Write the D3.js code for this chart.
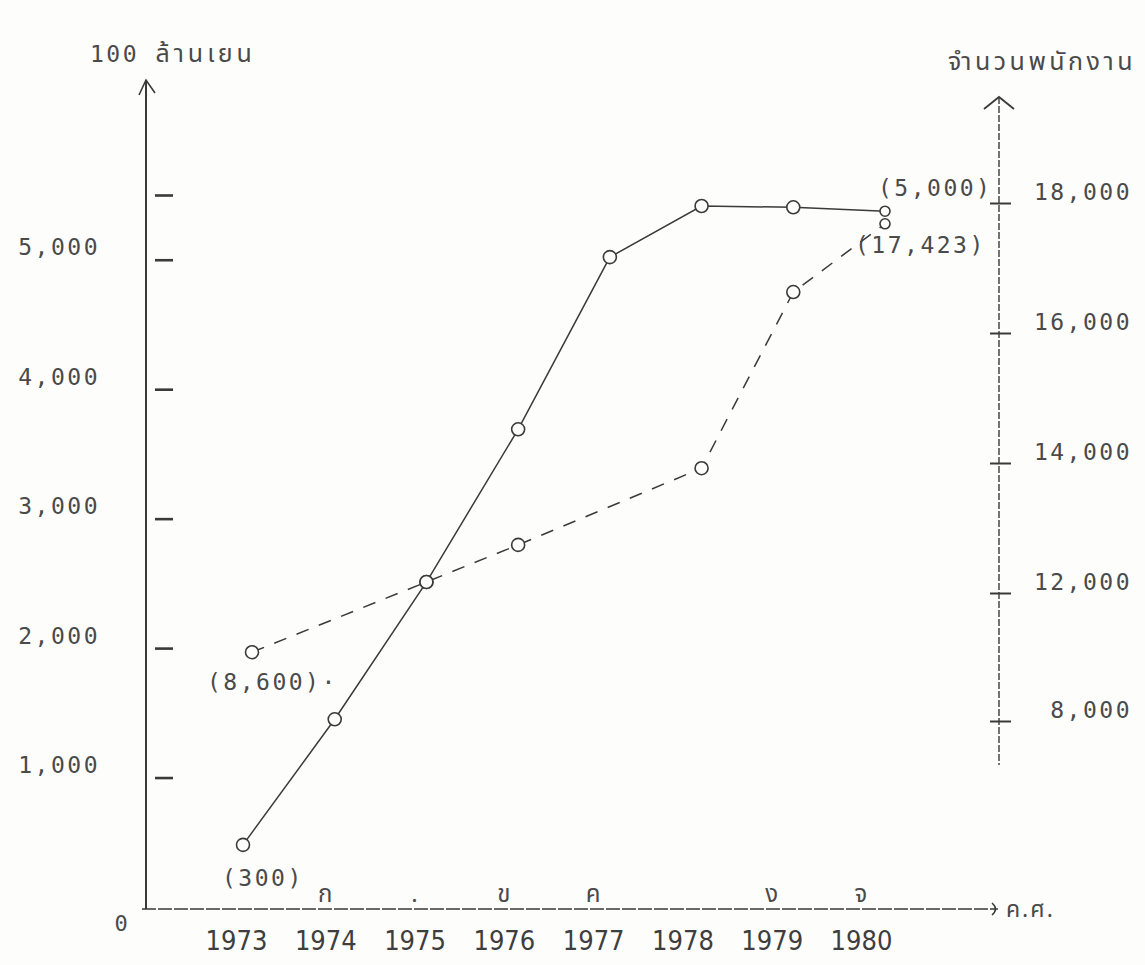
<!DOCTYPE html>
<html><head><meta charset="utf-8">
<script src="https://cdn.jsdelivr.net/npm/d3@7/dist/d3.min.js"></script>
<style>
html,body{margin:0;padding:0;background:#fdfdfc;}
svg{display:block;}
.mono{font-family:"DejaVu Sans Mono","Liberation Mono",monospace;fill:#4a4a4a;}
.thai{font-family:"Noto Sans Thai","Loma","Garuda","Norasi","Noto Sans","DejaVu Sans",sans-serif;fill:#4a4a4a;}
</style></head><body>
<svg id="c" width="1145" height="965"></svg>
<script>
// ---------- data ----------
const years = [1973, 1974, 1975, 1976, 1977, 1978, 1979, 1980];
const revenue = [480, 1450, 2510, 3690, 5020, 5415, 5405, 5375];          // 100 million yen (left axis)
const staffYears = [1973, 1975, 1976, 1978, 1979, 1980];
const staff = [10150, 12170, 12740, 13920, 16630, 17680];                 // employees (right axis)
const leftTicks = [1000, 2000, 3000, 4000, 5000];
const leftExtraTick = [5500];
const rightTicks = [8000, 12000, 14000, 16000, 18000];
const markerLetters = ["ก", ".", "ข", "ค", "ง", "จ"];
const markerYears = [1974, 1975, 1976, 1977, 1979, 1980];
const leftTitleNum = "100";
const leftTitleUnit = "ล้านเยน";
const rightTitle = "จำนวนพนักงาน";
const xTitle = "ค.ศ.";
const annRevenue = ["(300)", "(5,000)"];
const annStaff = ["(8,600)·", "(17,423)"];

// ---------- scales ----------
const svg = d3.select("#c");
const xPt = d3.scalePoint().domain(years).range([243, 885]);
const xLab = d3.scalePoint().domain(years).range([236, 861]);
const yL = d3.scaleLinear().domain([0, 5500]).range([907, 195]);
const yR = d3.scaleLinear().domain([8000, 12000, 18000]).range([721, 593, 203]);

const ink = "#3a3a3a";
const paper = "#fdfdfc";

// ---------- left axis ----------
const axL = 146, axBottom = 909;
svg.append("line").attr("x1", axL).attr("x2", axL).attr("y1", 80).attr("y2", axBottom)
  .attr("stroke", ink).attr("stroke-width", 2);
svg.append("path").attr("d", `M${axL-7},95 L${axL},80 L${axL+9},93`)
  .attr("fill", "none").attr("stroke", ink).attr("stroke-width", 1.6);

const gLT = svg.append("g").attr("transform", `translate(${axL+9},0)`)
  .call(d3.axisRight(yL).tickValues(leftTicks.concat(leftExtraTick)).tickSize(18).tickFormat(""));
gLT.select(".domain").remove();
gLT.selectAll(".tick line").attr("stroke", ink).attr("stroke-width", 2.6);

const gLL = svg.append("g").attr("transform", "translate(100,0)")
  .call(d3.axisLeft(yL).tickValues(leftTicks).tickSize(0).tickPadding(0).tickFormat(d3.format(",")));
gLL.select(".domain").remove();
gLL.selectAll("text").attr("class", "mono").attr("font-size", 23).attr("letter-spacing", 2.5)
  .attr("dy", "-0.22em").attr("fill", "#4a4a4a");

// ---------- right axis ----------
const axR = 999;
svg.append("line").attr("x1", axR).attr("x2", axR).attr("y1", 97).attr("y2", 765)
  .attr("stroke", ink).attr("stroke-width", 1.4).attr("stroke-dasharray", "7,2");
svg.append("path").attr("d", `M${axR-15},109 L${axR},97 L${axR+15},109`)
  .attr("fill", "none").attr("stroke", ink).attr("stroke-width", 1.8);
const gRT = svg.append("g").attr("transform", `translate(${axR-9},0)`)
  .call(d3.axisRight(yR).tickValues(rightTicks).tickSize(21).tickFormat(""));
gRT.select(".domain").remove();
gRT.selectAll(".tick line").attr("stroke", ink).attr("stroke-width", 2);
const gRL = svg.append("g").attr("transform", "translate(1132,0)")
  .call(d3.axisLeft(yR).tickValues(rightTicks).tickSize(0).tickPadding(0).tickFormat(d3.format(",")));
gRL.select(".domain").remove();
gRL.selectAll("text").attr("class", "mono").attr("font-size", 23).attr("letter-spacing", 2.5)
  .attr("dy", "-0.15em").attr("fill", "#4a4a4a");

// ---------- x axis ----------
svg.append("line").attr("x1", axL-4).attr("x2", 998).attr("y1", axBottom).attr("y2", axBottom)
  .attr("stroke", ink).attr("stroke-width", 1.7).attr("stroke-dasharray", "14,2");
svg.append("path").attr("d", `M992,${axBottom-6} Q999,${axBottom} 992,${axBottom+6}`)
  .attr("fill", "none").attr("stroke", ink).attr("stroke-width", 1.6);
svg.append("text").attr("class", "thai").attr("x", 1006).attr("y", axBottom + 8)
  .attr("font-size", 23).attr("letter-spacing", 2).text(xTitle);
svg.append("text").attr("class", "mono").attr("x", 121).attr("y", axBottom + 22)
  .attr("text-anchor", "middle").attr("font-size", 22).text("0");

const gX = svg.append("g").attr("transform", `translate(0,${axBottom})`)
  .call(d3.axisBottom(xLab).tickSize(0).tickPadding(22).tickFormat(d3.format("d")));
gX.select(".domain").remove();
gX.selectAll("text").attr("font-family", "'DejaVu Sans Condensed','DejaVu Sans',sans-serif")
  .attr("font-size", 27).attr("fill", "#3e3e3e");

svg.append("g").selectAll("text").data(markerLetters).join("text")
  .attr("class", "thai").attr("font-size", 24).attr("text-anchor", "middle")
  .attr("x", (d, i) => xLab(markerYears[i])).attr("y", axBottom - 7).text(d => d);

// ---------- titles ----------
const lt = svg.append("text").attr("x", 90).attr("y", 62);
lt.append("tspan").attr("class", "mono").attr("font-size", 23).attr("letter-spacing", 2.5).text(leftTitleNum + " ");
lt.append("tspan").attr("class", "thai").attr("font-size", 25).attr("letter-spacing", 4).text(leftTitleUnit);
svg.append("text").attr("class", "thai").attr("x", 1136).attr("y", 70)
  .attr("text-anchor", "end").attr("font-size", 25).attr("letter-spacing", 3.5).text(rightTitle);

// ---------- series ----------
const revPts = years.map((y, i) => [xPt(y), yL(revenue[i])]);
const staffPts = staffYears.map((y, i) => [xPt(y) + (i === 0 ? 9 : 0), yR(staff[i])]);

svg.append("path").attr("d", d3.line()(staffPts)).attr("fill", "none")
  .attr("stroke", "#3a3a3a").attr("stroke-width", 1.5).attr("stroke-dasharray", "13,11");
svg.append("path").attr("d", d3.line()(revPts)).attr("fill", "none")
  .attr("stroke", "#3a3a3a").attr("stroke-width", 1.5);

svg.append("g").selectAll("circle").data(revPts).join("circle")
  .attr("cx", d => d[0]).attr("cy", d => d[1]).attr("r", (d, i) => i === revPts.length - 1 ? 5 : 6.5)
  .attr("fill", paper).attr("stroke", "#3a3a3a").attr("stroke-width", 1.6);
svg.append("g").selectAll("circle").data(staffPts).join("circle")
  .attr("cx", d => d[0]).attr("cy", d => d[1]).attr("r", (d, i) => i === staffPts.length - 1 ? 5 : 6.5)
  .attr("fill", paper).attr("stroke", "#3a3a3a").attr("stroke-width", 1.6);

// ---------- annotations ----------
const annFont = { size: 23, ls: 2.5 };
const ann = [
  { t: annRevenue[0], p: revPts[0], dx: -21, dy: 41 },
  { t: annRevenue[1], p: revPts[revPts.length - 1], dx: -7, dy: -15 },
  { t: annStaff[0], p: staffPts[0], dx: -45, dy: 38 },
  { t: annStaff[1], p: staffPts[staffPts.length - 1], dx: -30, dy: 29 }
];
svg.append("g").selectAll("text").data(ann).join("text")
  .attr("class", "mono").attr("font-size", annFont.size).attr("letter-spacing", annFont.ls)
  .attr("x", d => d.p[0] + d.dx).attr("y", d => d.p[1] + d.dy).text(d => d.t);
</script>
</body></html>
